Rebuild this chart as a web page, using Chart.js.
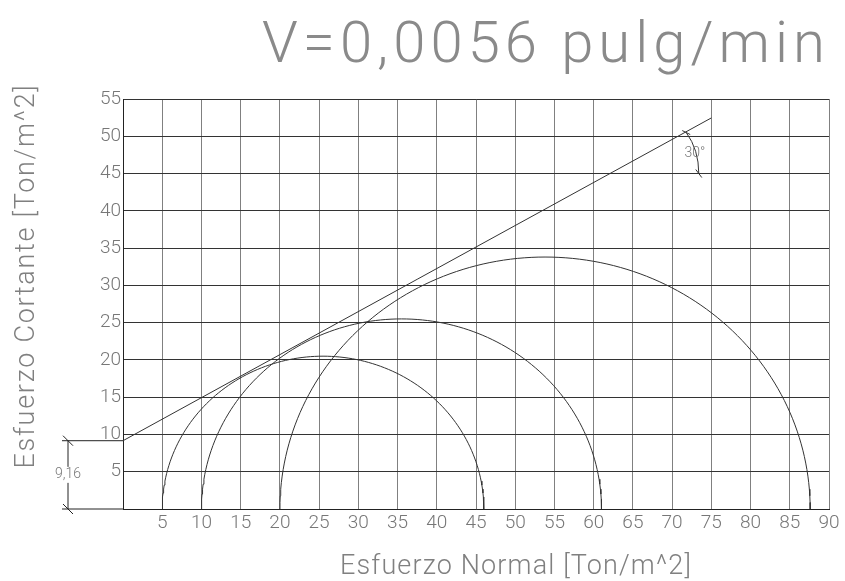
<!DOCTYPE html>
<html lang="es">
<head>
  <meta charset="UTF-8" />
  <title>Círculos de Mohr - V=0,0056 pulg/min</title>
  <style>
    html, body { margin: 0; padding: 0; background: #fff; }
    #wrap { width: 845px; height: 581px; }
  </style>
</head>
<body>
  <div id="wrap"><canvas id="mohrChart" width="845" height="581"></canvas></div>

  <script src="https://cdn.jsdelivr.net/npm/chart.js"></script>
  <script>
    // Datos
    const sigma3 = [5, 10, 20];          // esfuerzo principal menor
    const sigma1 = [46, 61, 87.6];       // esfuerzo principal mayor
    const cohesion = 9.16;               // intercepto de la envolvente
    const phi = 30;                      // angulo de friccion (grados)
    const envelopeX = [0, 75];           // extension de la envolvente
    const xTicks = [0, 5, 10, 15, 20, 25, 30, 35, 40, 45, 50, 55, 60, 65, 70, 75, 80, 85, 90];
    const yTicks = [0, 5, 10, 15, 20, 25, 30, 35, 40, 45, 50, 55];

    const FONT = 'Roboto';
    const GRAY = '#777';

    // semicirculo de Mohr a partir de sigma3 y sigma1
    function mohrPoints(s3, s1) {
      const c = (s1 + s3) / 2, r = (s1 - s3) / 2;
      const pts = [];
      for (let i = 0; i <= 120; i++) {
        const t = Math.PI - Math.PI * i / 120;
        pts.push({ x: c + r * Math.cos(t), y: r * Math.sin(t) });
      }
      return pts;
    }

    const tanPhi = Math.tan(phi * Math.PI / 180);
    const envelope = envelopeX.map(x => ({ x: x, y: cohesion + x * tanPhi }));

    const datasets = sigma3.map((s3, i) => ({
      data: mohrPoints(s3, sigma1[i]),
      borderColor: '#333',
      borderWidth: 1,
      pointRadius: 0,
      showLine: true,
      tension: 0
    }));
    datasets.push({
      data: envelope,
      borderColor: '#333',
      borderWidth: 1,
      pointRadius: 0,
      showLine: true
    });

    // texto con ancho ajustado (fuente tipo CAD, espaciada)
    function fitText(ctx, text, x, y, width, align) {
      ctx.save();
      ctx.letterSpacing = '0px';
      const natural = ctx.measureText(text).width;
      const extra = (width - natural) / Math.max(1, text.length);
      ctx.letterSpacing = extra + 'px';
      ctx.textAlign = 'left';
      let start = x;
      if (align === 'center') start = x - width / 2;
      if (align === 'right') start = x - width;
      ctx.fillText(text, start, y);
      ctx.restore();
    }

    const extras = {
      id: 'extras',
      afterDraw(chart) {
        const ctx = chart.ctx;
        const xs = chart.scales.x, ys = chart.scales.y;
        const area = chart.chartArea;
        ctx.save();
        ctx.textBaseline = 'alphabetic';

        // titulo
        ctx.fillStyle = '#8a8a8a';
        ctx.font = '300 58px ' + FONT;
        fitText(ctx, 'V=0,0056 pulg/min', 262, 62, 568, 'left');

        // titulo eje x
        ctx.fillStyle = '#808080';
        ctx.font = '300 27px ' + FONT;
        fitText(ctx, 'Esfuerzo Normal [Ton/m^2]', 516, 574, 352, 'center');

        // titulo eje y
        ctx.save();
        ctx.translate(34, 276);
        ctx.rotate(-Math.PI / 2);
        fitText(ctx, 'Esfuerzo Cortante [Ton/m^2]', 0, 0, 385, 'center');
        ctx.restore();

        // cota de la cohesion
        const y0 = ys.getPixelForValue(0), yc = ys.getPixelForValue(cohesion);
        const dx = area.left - 55;
        ctx.strokeStyle = '#222';
        ctx.lineWidth = 1;
        ctx.beginPath();
        ctx.moveTo(area.left - 61, yc); ctx.lineTo(area.left, yc);
        ctx.moveTo(area.left - 61, y0); ctx.lineTo(area.left, y0);
        ctx.moveTo(dx, yc); ctx.lineTo(dx, y0);
        ctx.moveTo(dx - 5, yc - 5); ctx.lineTo(dx + 5, yc + 5);
        ctx.moveTo(dx - 5, y0 - 5); ctx.lineTo(dx + 5, y0 + 5);
        ctx.stroke();
        ctx.font = '300 14px ' + FONT;
        const lbl = '9,16';
        const w = ctx.measureText(lbl).width;
        const my = (yc + y0) / 2;
        ctx.fillStyle = '#fff';
        ctx.fillRect(dx - w / 2 - 1, my - 8, w + 2, 16);
        ctx.fillStyle = GRAY;
        ctx.textAlign = 'center';
        ctx.textBaseline = 'middle';
        ctx.fillText(lbl, dx, my);

        // cota del angulo
        const ax = xs.getPixelForValue(71.8), ay = ys.getPixelForValue(50.5);
        const bx = xs.getPixelForValue(73.4), by = ys.getPixelForValue(45);
        const cx = xs.getPixelForValue(73.4), cy = ys.getPixelForValue(48.2);
        ctx.strokeStyle = '#333';
        ctx.beginPath();
        ctx.moveTo(ax, ay);
        ctx.quadraticCurveTo(cx, cy, bx, by);
        ctx.moveTo(ax - 4, ay - 2); ctx.lineTo(ax + 4, ay + 2);
        ctx.moveTo(bx - 3, by - 4); ctx.lineTo(bx + 3, by + 4);
        ctx.stroke();
        ctx.fillStyle = GRAY;
        ctx.font = '300 14px ' + FONT;
        ctx.fillText('30°', xs.getPixelForValue(72.9), ys.getPixelForValue(47.7));
        ctx.restore();
      }
    };

    new Chart(document.getElementById('mohrChart'), {
      type: 'scatter',
      data: { datasets: datasets },
      plugins: [extras],
      options: {
        responsive: false,
        animation: false,
        layout: { padding: { top: 99, right: 16, left: 0, bottom: 0 } },
        plugins: {
          legend: { display: false },
          tooltip: { enabled: false }
        },
        scales: {
          x: {
            type: 'linear',
            min: 0,
            max: 90,
            afterFit(scale) { scale.height = 72; },
            afterBuildTicks(scale) { scale.ticks = xTicks.map(v => ({ value: v })); },
            grid: { color: '#808080', drawTicks: false },
            border: { color: '#222' },
            ticks: {
              padding: 3,
              color: GRAY,
              font: { family: FONT, size: 19, weight: '300' },
              maxRotation: 0,
              callback: v => (v === 0 ? '' : v)
            }
          },
          y: {
            type: 'linear',
            min: 0,
            max: 55,
            afterFit(scale) { scale.width = 123; },
            afterBuildTicks(scale) { scale.ticks = yTicks.map(v => ({ value: v })); },
            grid: { color: '#333', drawTicks: false },
            border: { color: '#222' },
            ticks: {
              padding: 2,
              color: GRAY,
              font: { family: FONT, size: 19, weight: '300' },
              callback: v => (v === 0 ? '' : v)
            }
          }
        }
      }
    });
  </script>
</body>
</html>
